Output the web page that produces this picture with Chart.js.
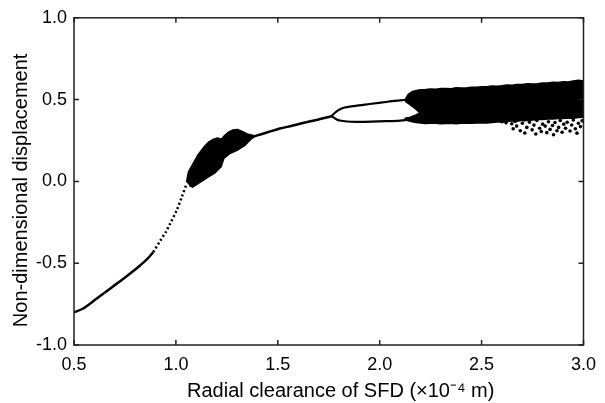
<!DOCTYPE html>
<html>
<head>
<meta charset="utf-8">
<script src="https://cdn.jsdelivr.net/npm/chart.js@4.4.1/dist/chart.umd.min.js"></script>
<style>
  html, body { margin: 0; padding: 0; background: #fff; }
  #wrap { width: 605px; height: 403px; }
</style>
</head>
<body>
<div id="wrap"><canvas id="bif" width="605" height="403"></canvas></div>
<script>
// axis ticks and titles
const xTicks = [0.5, 1.0, 1.5, 2.0, 2.5, 3.0];
const yTicks = [-1.0, -0.5, 0.0, 0.5, 1.0];
const xTitle = 'Radial clearance of SFD (×10⁻⁴ m)';
const yTitle = 'Non-dimensional displacement';

// period-1 branch, solid part
const p1X = [0.5, 0.54, 0.578, 0.60, 0.66, 0.70, 0.742, 0.78, 0.824, 0.86, 0.889];
const p1Y = [-0.80, -0.78, -0.748, -0.727, -0.671, -0.634, -0.595, -0.559, -0.514, -0.474, -0.432];

// sparse dotted part before the first chaotic window
const dotX = [0.889, 0.922, 0.95, 0.971, 1.003, 1.028, 1.052];
const dotY = [-0.432, -0.365, -0.31, -0.26, -0.179, -0.098, -0.017];

// first chaotic window outline (upper edge then lower edge back)
const chaos1X = [1.052, 1.062, 1.085, 1.11, 1.138, 1.162, 1.185, 1.205, 1.222, 1.24, 1.26, 1.28, 1.302, 1.325, 1.35, 1.39,
                 1.372, 1.34, 1.30, 1.262, 1.235, 1.222, 1.19, 1.15, 1.12, 1.095, 1.082, 1.066];
const chaos1Y = [-0.005, 0.06, 0.11, 0.165, 0.21, 0.242, 0.258, 0.265, 0.258, 0.282, 0.303, 0.314, 0.318, 0.306, 0.29, 0.277,
                 0.262, 0.222, 0.19, 0.168, 0.14, 0.09, 0.05, 0.02, -0.005, -0.025, -0.035, -0.025];

// period-1 branch between the windows
const p1bX = [1.387, 1.45, 1.51, 1.57, 1.624, 1.70, 1.763];
const p1bY = [0.277, 0.30, 0.323, 0.34, 0.357, 0.378, 0.398];

// period-2 branches
const upX = [1.763, 1.79, 1.82, 1.88, 1.951, 2.04, 2.10, 2.14];
const upY = [0.398, 0.43, 0.449, 0.462, 0.473, 0.487, 0.495, 0.50];
const loX = [1.763, 1.785, 1.804, 1.84, 1.886, 1.96, 2.033, 2.10, 2.147];
const loY = [0.398, 0.382, 0.372, 0.366, 0.364, 0.365, 0.368, 0.372, 0.378];

// second chaotic band, rough upper and lower edges
const bandX = [2.125, 2.14, 2.16, 2.18, 2.20, 2.225, 2.25, 2.275, 2.30, 2.325, 2.35, 2.375, 2.40, 2.425, 2.45, 2.475, 2.50,
               2.525, 2.55, 2.575, 2.60, 2.625, 2.65, 2.675, 2.70, 2.725, 2.75, 2.775, 2.80, 2.825, 2.85, 2.875, 2.90,
               2.925, 2.95, 2.975, 3.0];
const bandTop = [0.50, 0.532, 0.549, 0.556, 0.56, 0.562, 0.565, 0.563, 0.568, 0.568, 0.567, 0.572, 0.571, 0.571, 0.576, 0.575,
                 0.579, 0.578, 0.583, 0.582, 0.585, 0.589, 0.588, 0.593, 0.592, 0.597, 0.596, 0.597, 0.602, 0.601, 0.606, 0.605,
                 0.609, 0.608, 0.613, 0.618, 0.613];
const bandBot = [0.376, 0.37, 0.365, 0.36, 0.357, 0.354, 0.355, 0.355, 0.352, 0.354, 0.356, 0.353, 0.355, 0.357, 0.355, 0.357,
                 0.359, 0.357, 0.36, 0.363, 0.363, 0.366, 0.37, 0.368, 0.373, 0.372, 0.376, 0.379, 0.378, 0.382, 0.381, 0.385,
                 0.384, 0.388, 0.386, 0.39, 0.392];
// white notch where the two period-2 branches enter the band
const notchX = [2.125, 2.15, 2.175, 2.198, 2.175, 2.15, 2.125];
const notchY = [0.386, 0.392, 0.405, 0.418, 0.445, 0.468, 0.49];

// scattered points below the band
const strayX = [2.60, 2.62, 2.648, 2.655, 2.664, 2.672, 2.69, 2.70, 2.71, 2.712, 2.722, 2.735, 2.748, 2.757, 2.766, 2.771,
                2.785, 2.793, 2.80, 2.812, 2.82, 2.828, 2.836, 2.848, 2.853, 2.86, 2.87, 2.878, 2.886, 2.895, 2.903,
                2.912, 2.92, 2.934, 2.942, 2.95, 2.96, 2.968, 2.975, 2.985, 2.993];
const strayY = [0.365, 0.358, 0.352, 0.322, 0.366, 0.338, 0.31, 0.355, 0.375, 0.296, 0.33, 0.362, 0.315, 0.344, 0.29, 0.372,
                0.325, 0.305, 0.35, 0.338, 0.298, 0.365, 0.318, 0.342, 0.285, 0.36, 0.31, 0.33, 0.372, 0.30, 0.35,
                0.325, 0.362, 0.308, 0.345, 0.375, 0.322, 0.295, 0.355, 0.335, 0.37];

const pts = (xs, ys) => xs.map((x, i) => ({ x, y: ys[i] }));

const bandOutline = pts(bandX, bandTop)
    .concat(pts(bandX, bandBot).reverse())
    .concat(pts(notchX, notchY));

const FONT = "'Liberation Sans', Arial, sans-serif";
const INK = '#000';

const frame = {
    id: 'frame',
    afterDatasetsDraw(chart) {
        const { ctx, chartArea: a, scales: { x, y } } = chart;
        ctx.save();
        ctx.strokeStyle = '#222';
        ctx.lineWidth = 1.5;
        ctx.strokeRect(a.left, a.top, a.right - a.left, a.bottom - a.top);
        ctx.beginPath();
        xTicks.forEach(v => {
            const px = x.getPixelForValue(v);
            ctx.moveTo(px, a.bottom); ctx.lineTo(px, a.bottom - 5);
            ctx.moveTo(px, a.top); ctx.lineTo(px, a.top + 5);
        });
        yTicks.forEach(v => {
            const py = y.getPixelForValue(v);
            ctx.moveTo(a.left, py); ctx.lineTo(a.left + 5, py);
            ctx.moveTo(a.right, py); ctx.lineTo(a.right - 5, py);
        });
        ctx.stroke();

        // axis titles, placed as in the reference figure
        ctx.fillStyle = INK;
        ctx.font = '20px ' + FONT;
        ctx.textAlign = 'center';
        ctx.textBaseline = 'middle';
        ctx.fillText(xTitle, (a.left + a.right) / 2 + 12, 391);
        ctx.translate(21, (a.top + a.bottom) / 2 + 9);
        ctx.rotate(-Math.PI / 2);
        ctx.fillText(yTitle, 0, 0);
        ctx.restore();
    }
};

const lineSet = (data, extra) => Object.assign({
    data, showLine: true, borderColor: INK, borderWidth: 2.5, pointRadius: 0, tension: 0, fill: false,
    borderJoinStyle: 'round'
}, extra || {});

new Chart(document.getElementById('bif'), {
    type: 'scatter',
    data: {
        datasets: [
            lineSet(pts(p1X, p1Y), { tension: 0.3 }),
            lineSet(pts(dotX, dotY), { borderDash: [2, 2.5], borderWidth: 2.5, tension: 0.3 }),
            lineSet(pts(chaos1X, chaos1Y), { fill: 'shape', backgroundColor: INK, borderWidth: 1.5 }),
            lineSet(pts(p1bX, p1bY), { tension: 0.3 }),
            lineSet(pts(upX, upY), { borderWidth: 2.2, tension: 0.3 }),
            lineSet(pts(loX, loY), { borderWidth: 2.2, tension: 0.3 }),
            lineSet(bandOutline, { fill: 'shape', backgroundColor: INK, borderWidth: 1.5 }),
            { data: pts(strayX, strayY), pointRadius: 1.8, backgroundColor: INK, borderWidth: 0, showLine: false }
        ]
    },
    options: {
        responsive: false,
        devicePixelRatio: 1,
        animation: false,
        layout: { padding: { top: 16, right: 21, left: 0, bottom: 0 } },
        plugins: { legend: { display: false }, tooltip: { enabled: false } },
        scales: {
            x: {
                type: 'linear', min: 0.5, max: 3.0,
                afterBuildTicks: s => { s.ticks = xTicks.map(v => ({ value: v })); },
                afterFit: s => { s.height = 58; },
                grid: { display: false, drawTicks: false },
                border: { display: false },
                ticks: { color: INK, padding: 9, font: { family: FONT, size: 18 }, callback: v => v.toFixed(1) }
            },
            y: {
                type: 'linear', min: -1.0, max: 1.0,
                afterBuildTicks: s => { s.ticks = yTicks.map(v => ({ value: v })); },
                afterFit: s => { s.width = 74; },
                grid: { display: false, drawTicks: false },
                border: { display: false },
                ticks: { color: INK, padding: 7, font: { family: FONT, size: 18 }, callback: v => v.toFixed(1) }
            }
        }
    },
    plugins: [frame]
});
</script>
</body>
</html>
